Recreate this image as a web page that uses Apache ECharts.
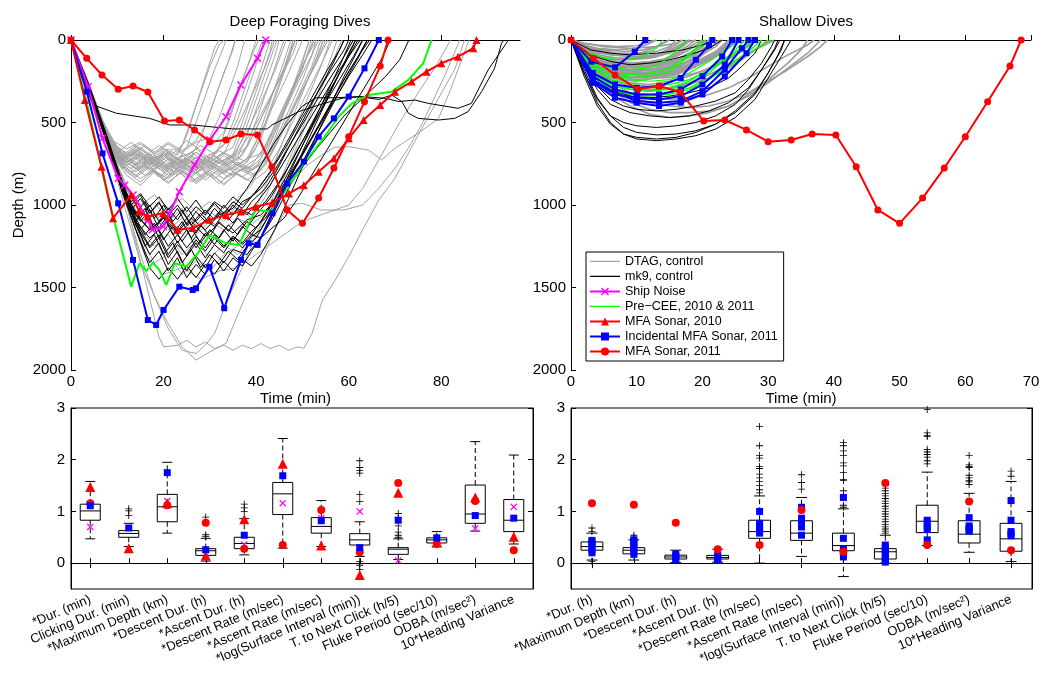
<!DOCTYPE html>
<html><head><meta charset="utf-8">
<script src="https://cdn.jsdelivr.net/npm/echarts@6/dist/echarts.min.js"></script>
<style>html,body{margin:0;padding:0;background:#fff}#c{width:1044px;height:675px}</style>
</head><body><div id="c"></div>
<script>
// ---------------- DATA ----------------
const timeTicksDeep = [0, 20, 40, 60, 80];
const timeTicksShallow = [0, 10, 20, 30, 40, 50, 60, 70];
const depthTicks = [0, 500, 1000, 1500, 2000];
const boxTicks = [0, 1, 2, 3];

// dive profiles: flat [t(min), depth(m), ...]
const deepGray = [
 [0,0,3,220,6,450,9,640,11,720,14,690,17,760,20,700,23,780,26,720,29,800,32,740,35,700,38,560,41,380,44,190,46.5,0],
 [0,0,3,250,6,480,9,680,12,760,15,700,18,790,21,720,24,760,27,680,30,740,33,690,36,520,39,340,42,160,44,0],
 [0,0,4,300,8,600,11,750,14,820,17,760,20,850,23,780,26,830,29,760,32,810,35,770,38,720,41,560,44,380,47,200,50,0],
 [0,0,3,200,7,500,10,650,13,700,16,640,19,720,22,660,25,700,28,640,31,690,34,600,36,480,38,320,40,150,42,0],
 [0,0,4,320,8,620,11,780,14,720,17,800,20,740,23,820,26,760,29,850,32,780,35,820,38,760,41,700,44,520,47,340,50,160,52.5,0],
 [0,0,3,240,6,500,9,700,12,820,15,880,18,800,21,870,24,790,27,860,30,800,33,880,36,800,39,760,42,640,45,460,48,280,51,100,53,0],
 [0,0,4,280,7,520,10,680,13,620,16,700,19,640,22,690,25,610,28,670,31,620,33,560,35,400,37,240,39,100,40.5,0],
 [0,0,3,230,7,560,10,720,13,780,16,700,19,740,22,800,25,720,28,770,31,700,34,760,37,700,40,540,43,360,46,170,48,0],
 [0,0,4,330,8,640,11,760,14,700,17,780,20,830,23,760,26,800,29,730,32,790,35,730,38,790,41,720,43,600,46,420,49,230,51.5,0],
 [0,0,3,260,6,520,9,700,12,740,15,680,18,750,21,690,24,730,27,660,30,720,32,650,34,500,36,330,38,170,40,0],
 [0,0,4,300,8,600,11,700,14,640,17,700,20,660,23,720,26,680,29,740,32,670,35,720,37,600,39,440,41,280,43,120,44.5,0],
 [0,0,5,380,9,660,12,800,15,860,18,790,21,840,24,780,27,850,30,790,33,840,36,780,39,820,42,760,45,600,48,420,51,250,54,80,55.5,0],
 [0,0,3,210,6,450,9,620,12,690,15,630,18,690,21,630,24,680,27,620,30,590,32,470,34,320,36,160,37.5,0],
 [0,0,4,290,8,590,11,720,14,780,17,720,20,790,23,730,26,780,29,720,32,770,35,700,38,740,40,620,42,460,44,290,46,130,47.5,0],
 [0,0,3,240,7,540,10,700,13,760,16,820,19,760,22,820,25,760,28,830,31,770,34,830,37,780,40,820,43,700,46,520,49,340,52,160,54,0],
 [0,0,4,310,8,620,11,730,14,670,17,730,20,690,23,750,26,700,29,760,32,700,35,650,37,500,39,340,41,180,43,0],
 [0,0,3,220,6,470,9,660,12,740,15,790,18,730,21,780,24,720,27,770,30,710,33,760,36,710,38,580,40,420,42,260,44,100,45,0],
 [0,0,5,360,9,650,12,760,15,700,18,760,21,820,24,760,27,810,30,750,33,810,36,750,39,790,42,730,44,620,47,430,50,240,52.5,60,53.5,0],
 [0,0,3,230,6,470,9,640,12,700,15,650,18,720,21,660,23,700,25,580,27,400,29,220,31,50,32,0],
 [0,0,4,300,8,610,11,720,14,680,17,740,20,680,22,720,24,640,26,480,28,320,30,160,32,30,33,0],
 [0,0,3,240,6,490,9,670,12,730,15,770,18,710,21,770,24,700,27,760,30,690,33,740,36,680,39,560,42,400,45,240,48,80,49,0],
 [0,0,4,290,8,580,11,690,14,750,17,690,20,770,23,710,26,790,29,720,32,780,35,710,38,650,41,480,44,300,47,120,48.5,0],
 [0,0,3,230,6,480,9,660,12,740,15,690,18,770,21,700,24,780,27,710,30,770,33,700,36,760,39,700,41,600,43,440,45,280,47,120,48,0],
 [0,0,4,320,8,630,11,770,14,830,17,770,20,850,23,790,26,860,29,800,32,870,35,800,38,850,41,790,44,650,47,480,50,300,53,130,54.5,0],
 [0,0,3,210,6,440,9,610,12,660,15,620,18,680,21,620,24,670,27,610,29,520,31,360,33,200,35,60,35.5,0],
 [0,0,4,280,8,570,11,700,14,760,17,710,20,780,23,720,26,770,29,700,32,750,35,690,37,550,39,390,41,230,43,70,43.5,0],
 [0,0,3,250,7,560,10,740,13,800,16,760,19,830,22,770,25,840,28,780,31,840,34,780,37,830,40,770,43,620,46,440,49,260,52,90,53,0],
 [0,0,4,300,8,600,11,720,14,680,17,750,20,690,23,760,26,700,28,600,30,440,32,280,34,130,35.5,0],
 [0,0,3,240,6,480,9,650,12,710,15,660,18,730,21,680,24,740,27,680,30,740,33,680,36,730,38,640,40,490,42,330,44,170,46,0],
 [0,0,4,310,8,610,11,740,14,800,17,730,20,800,23,740,26,810,29,740,32,800,35,740,38,800,41,760,44,640,47,470,50,300,53,140,55,0],
 [0,0,3,220,6,460,9,630,12,700,15,760,18,700,21,760,24,700,27,760,30,700,33,640,35,500,37,340,39,180,41,30,41.5,0],
 [0,0,4,290,8,590,11,740,14,690,17,760,20,700,23,770,26,710,29,780,32,720,35,780,38,720,41,690,44,540,47,360,50,180,52,0],
 [0,0,3,240,6,490,9,680,12,780,15,840,18,790,21,860,24,800,27,870,30,810,33,870,36,810,39,860,42,800,45,660,48,490,51,320,54,150,56.5,0],
 [0,0,4,300,8,600,11,710,14,660,17,720,20,670,23,730,25,650,27,500,29,340,31,180,33,40,33.5,0],
 [0,0,3,230,6,470,9,650,12,720,15,780,18,720,21,790,24,730,27,790,30,730,33,790,36,740,39,780,42,720,44,600,46,440,48,280,50,120,51.5,0],
 [0,0,4,310,8,620,11,760,14,710,17,780,20,720,23,790,26,730,29,790,32,730,35,790,38,740,40,650,42,500,44,340,46,180,48,30,48.5,0],
 [0,0,4,300,8,620,12,900,15,1050,18,980,21,1100,24,1020,27,1120,30,1040,33,1100,36,1000,39,1080,42,950,45,760,48,560,51,360,54,160,56,0],
 [0,0,4,290,8,600,12,920,15,1150,18,1250,21,1180,24,1300,27,1220,30,1320,33,1240,36,1300,39,1200,42,1100,45,900,48,700,51,500,54,300,57,100,58.5,0],
 [0,0,4,320,8,650,12,960,15,1200,18,1350,21,1300,24,1420,27,1340,30,1400,33,1300,36,1250,38,1150,41,950,44,740,47,530,50,320,53,110,54.5,0],
 [0,0,4,300,8,630,12,880,15,1000,18,940,21,1020,24,960,27,1040,30,980,33,1050,36,960,39,880,42,700,45,500,48,300,51,100,52.5,0],
 [0,0,4,300,8,640,12,1000,16,1450,19,1800,20,1860,23,1850,25,1820,27,1860,29,1830,31,1870,33,1850,35,1880,37,1850,39,1870,41,1840,43,1870,45,1850,47,1880,49,1860,50.3,1868,52.1,1777,54.3,1576,57.1,1454,60,1313,63,1150,66.5,970,70,838,75,576,79.4,353,83,172,85,0],
 [0,0,4,300,8,650,12,1050,15,1350,18,1550,21,1720,24,1860,27,1940,30,1890,33.5,1838,37,1600,40.6,1373,44,1150,47,1000,50,990,54,1030,59,1030,63,1000,66.5,899,70,778,73,650,76,500,78,380,81,200,84,0],
 [0,0,4,300,8,650,12,1000,15,1300,18,1550,21,1750,24,1880,27,1900,29,1850,31,1780,34,1560,37,1380,40,1180,43,990,46,800,49,600,52,400,55,200,57.5,0],
 [0,0,4,300,8,620,12,900,15,1100,18,1050,21,1150,24,1080,27,1180,30,1100,33,1150,36,1080,39,1120,42,1050,45,950,48,850,51,760,54,700,57,650,60,646,64.3,667,67.1,727,70,656,72.2,616,76.5,535,79.4,475,82,300,84,150,86,0],
 [0,0,4,300,8,650,12,1000,16,1300,20,1420,24,1380,28,1450,32,1400,36,1380,40,1300,45,1200,50,1100,55,1050,60,1000,63,900,67,700,71,500,75,320,79,150,82,0]
];

const deepBlack = [
 [0,0,4,300,8,620,11,850,13,1000,15,940,17,1050,19,980,21,1100,23,1020,25,1120,27,1040,29,1100,31,1020,33,1080,35,1000,37,1060,39,980,42,900,45,760,48,600,51,440,54,280,57,120,59,0],
 [0,0,4,310,8,640,11,880,13,1050,15,1150,17,1080,19,1200,21,1120,23,1230,25,1150,27,1260,29,1170,31,1240,33,1150,35,1220,37,1130,39,1180,41,1100,44,960,47,800,50,640,53,480,56,310,59,150,61.5,0],
 [0,0,4,290,8,610,11,870,14,1100,16,1250,18,1180,20,1300,22,1230,24,1350,26,1270,28,1380,30,1300,32,1360,34,1280,36,1330,38,1250,40,1200,43,1050,46,880,49,700,52,520,55,340,58,160,60.5,0],
 [0,0,4,300,8,630,11,900,14,1150,17,1350,19,1280,21,1400,23,1320,25,1440,27,1360,29,1420,31,1330,33,1400,35,1320,37,1370,39,1280,42,1150,45,980,48,800,51,620,54,440,57,260,60,80,61.5,0],
 [0,0,4,300,8,620,11,880,13,980,15,930,17,1010,19,950,21,1030,23,960,25,1040,27,970,29,1050,31,980,33,1020,35,950,37,1000,40,920,43,800,46,650,49,500,52,350,55,200,58,60,59,0],
 [0,0,4,310,8,640,11,900,14,1100,16,1020,18,1150,20,1070,22,1180,24,1100,26,1200,28,1120,30,1190,32,1100,34,1160,36,1080,38,1140,40,1060,43,960,46,820,49,660,52,520,55,380,58,240,61,100,63,0],
 [0,0,4,300,8,620,11,880,14,1100,17,1250,19,1180,21,1300,23,1220,25,1310,27,1230,29,1320,31,1240,33,1290,35,1200,37,1260,39,1190,41,1150,44,1000,47,840,50,690,53,540,56,390,59,240,62,100,64,0],
 [0,0,4,280,8,600,11,860,13,1020,15,1100,17,1030,19,1140,21,1060,23,1160,25,1080,27,1170,29,1090,31,1130,33,1050,35,1110,37,1030,39,1060,42,980,45,860,48,720,51,560,54,400,57,250,60,100,62,0],
 [0,0,4,300,8,630,11,890,14,1120,17,1300,19,1230,21,1360,23,1280,25,1400,27,1310,29,1380,31,1290,33,1350,35,1270,38,1300,41,1200,44,1060,47,900,50,740,53,580,56,420,59,260,62,110,64,0],
 [0,0,4,300,8,620,11,870,13,1000,15,1080,17,1000,19,1100,21,1020,23,1090,25,1010,27,1100,29,1030,31,1090,33,1000,35,1060,37,980,39,950,41,880,44,760,47,620,50,470,53,330,56,190,59,60,60,0],
 [0,0,4,300,8,640,11,920,14,1150,17,1380,19,1450,21,1380,23,1450,25,1370,27,1440,29,1360,31,1420,33,1340,35,1400,37,1330,39,1370,41,1300,44,1150,47,960,50,770,53,580,56,400,59,220,62,60,63,0],
 [0,0,4,290,8,610,11,870,14,1080,16,1180,18,1110,20,1210,22,1130,24,1220,26,1140,28,1230,30,1150,32,1200,34,1120,36,1180,38,1100,40,1140,42,1060,45,920,48,780,51,640,54,500,57,360,60,220,63,90,65,0],
 [0,0,4,300,8,630,11,880,14,1050,16,980,18,1080,20,1000,22,1100,24,1030,26,1120,28,1050,30,1110,32,1040,34,1090,36,1020,38,1060,40,990,43,880,46,740,49,600,52,460,55,320,58,180,61,60,62.5,0],
 [0,0,4,300,8,620,11,880,14,1120,17,1260,19,1200,21,1320,23,1240,25,1300,27,1210,29,1280,31,1200,33,1260,35,1190,37,1230,39,1160,42,1080,45,950,48,800,51,650,54,500,57,340,60,190,63,60,64.5,0],
 [0,0,4,310,8,640,11,900,13,1030,15,960,17,1050,19,990,21,1060,23,1000,25,1080,27,1010,29,1060,31,990,33,1050,35,980,37,1020,39,950,41,900,44,790,47,650,50,510,53,370,56,230,59,100,61,0],
 [0,0,4,300,8,630,11,900,14,1100,17,1200,19,1150,21,1250,23,1180,25,1260,27,1190,29,1260,31,1180,33,1250,35,1190,37,1240,39,1180,41,1200,43,1150,46,1080,49,960,52,820,55,680,58,540,61,400,64,260,67,120,69,0],
 [0,0,4,300,8,620,11,880,14,1060,17,1150,20,1080,23,1180,26,1100,29,1190,32,1110,35,1170,38,1090,41,1060,44,980,47,880,50,770,53,660,56,560,59,460,62,380,65,300,68,220,71,120,73,0],
 [0,0,2,200,4.8,394,9.8,444,17,475,21.3,515,26.3,515,34.9,539,42.4,539,43.4,515,49.2,434,53.5,394,58.6,353,62.9,343,67.9,353,70.8,373,74.3,364,77.2,384,83.6,414,86.5,384,90.1,182,94.5,0],
 [0,0,4,300,8,620,11,880,14,1050,17,1150,20,1080,23,1160,26,1080,29,1150,32,1060,35,1020,38,900,41,760,44,620,47,500,50,400,53,350,57,350,62,343,66.5,360,69.3,333,71.5,374,72.9,444,75,475,79.4,485,82.9,475,85.8,434,88.7,313,91.5,172,93,20,93.5,0]
];

// MFA Sonar, 2011 (same dive drawn in both panels)
const mfaSonar2011 = [0,0,3.4,111,6.7,212,10.2,299,13.4,279,16.6,315,20.2,491,23.4,485,26.7,545,30,616,33.5,606,36.7,570,40.3,576,43.4,768,46.7,1030,50,1111,53.5,958,56.8,776,60,586,63.4,374,66.8,158,68.5,0];
const mfaSonar2010 = [0,0,3,364,6.6,768,9.1,1080,13,940,14.8,1040,16.6,1070,19.9,1050,23,1150,26.3,1140,29.9,1090,33.5,1060,36.7,1040,39.9,1010,43.5,986,47.1,930,50.3,880,53.5,798,56.8,717,60,596,63.2,485,66.8,394,70,313,73.6,252,76.8,192,80,141,83.6,101,86.9,50,87.6,0];
const shipNoise = [0,0,3.7,283,6.8,596,10.2,838,11.6,880,13.4,940,16.6,1090,17.6,1150,19.9,1130,21.3,1050,23.4,920,26.7,758,30,606,33.5,465,36.7,273,40.3,111,42.1,0];
const deepIncidental = [0,0,3.4,313,6.8,687,10.2,990,13.4,1333,16.6,1697,18.4,1727,20,1636,23.4,1495,26.3,1515,27,1505,29.9,1374,33.1,1626,36.7,1333,38.4,1232,40.3,1242,43.5,1050,46.7,869,50.3,737,53.5,586,56.8,475,60,343,63.4,172,66.5,0];
const deepPreCEE = [0,0,4,450,8,950,13,1495,14.8,1353,16.3,1400,17.7,1350,19,1390,20.6,1485,22.4,1353,24.9,1373,27.4,1293,29.9,1182,33.5,1232,36.3,1242,38.1,1131,39.9,1030,43.1,1040,46.4,909,50.3,747,54.3,606,57.8,465,60.7,384,64.3,333,69.3,313,72.9,242,76.1,141,77.9,0];

const shallowGray = [
 [0,0,2,80,4,140,7,170,10,160,13,150,16,120,19,60,21,0],
 [0,0,2,100,4,180,7,210,10,200,13,190,16,170,19,110,22,40,23,0],
 [0,0,2,60,4,100,7,120,10,110,13,90,15,50,17,0],
 [0,0,2,120,4,200,7,240,10,250,13,230,16,210,19,160,22,90,25,20,26,0],
 [0,0,2,90,5,160,8,190,11,180,14,170,17,140,20,80,22,20,23,0],
 [0,0,2,70,5,130,8,150,11,140,14,120,16,80,18,30,19,0],
 [0,0,3,130,6,220,9,260,12,270,15,250,18,220,21,170,24,100,27,30,28,0],
 [0,0,2,50,4,80,7,90,10,85,12,60,14,20,15,0],
 [0,0,2,110,5,190,8,230,11,220,14,200,17,180,20,140,23,70,25,0],
 [0,0,3,150,6,250,9,300,12,310,15,290,18,260,21,210,24,150,27,80,30,20,31,0],
 [0,0,2,40,5,60,8,70,11,60,13,40,15,0],
 [0,0,3,140,6,240,9,280,12,300,15,290,18,270,21,230,24,170,27,90,29,30,30,0],
 [0,0,2,80,5,150,8,180,11,200,14,190,17,160,20,110,23,50,25,0],
 [0,0,3,160,6,260,9,320,12,350,15,360,18,350,21,330,24,290,27,230,30,160,33,90,36,30,37,0],
 [0,0,3,170,6,280,9,340,12,380,15,400,18,410,21,400,24,370,27,320,30,250,33,180,36,100,38,40,39,0],
 [0,0,3,180,6,300,9,380,12,420,15,440,18,440,21,430,24,400,27,340,30,260,33,170,36,80,38,0],
 [0,0,2,100,4,170,7,200,10,190,13,170,16,140,19,90,21,30,22,0],
 [0,0,2,130,4,210,7,250,10,240,13,230,16,200,19,150,22,80,24,20,25,0],
 [0,0,3,130,6,200,9,230,12,220,15,200,18,160,21,100,24,30,25,0],
 [0,0,2,30,4,50,7,60,10,50,12,20,13,0],
 [0,0,3,200,6,330,9,400,12,450,15,470,18,460,21,440,24,400,27,330,30,240,33,140,35,60,36,0],
 [0,0,2,60,4,120,6,150,8,160,10,170,12,160,14,150,16,130,18,90,20,40,21,0],
 [0,0,2,50,4,100,6,130,9,140,12,130,15,110,17,70,19,20,20,0],
 [0,0,2,90,4,150,6,190,8,200,11,210,14,200,17,180,20,130,22,70,24,0],
 [0,0,2,70,4,110,6,120,9,120,12,110,14,90,16,60,18,10,19,0],
 [0,0,2,110,4,170,6,200,9,220,12,220,15,210,18,180,21,120,23,50,24,0],
 [0,0,2,20,4,30,7,40,10,35,12,10,13,0],
 [0,0,3,60,6,90,9,100,12,95,15,80,17,40,18,0],
 [0,0,2,70,4,130,7,160,10,170,13,160,16,130,18,90,20,40,21,0],
 [0,0,2,90,4,150,7,180,10,190,13,180,16,160,19,120,21,60,22.5,0],
 [0,0,2,40,4,70,7,90,10,100,13,90,15,60,17,20,18,0],
 [0,0,2,100,4,160,7,190,10,200,13,200,16,180,19,140,22,80,24,30,25,0],
 [0,0,2,60,4,110,7,130,10,140,13,130,16,100,18,60,20,10,20.5,0],
 [0,0,2,80,4,140,7,170,10,180,13,180,16,170,19,140,21,100,23,50,24.5,0],
 [0,0,2,50,4,90,7,110,10,110,13,100,15,70,17,30,18,0],
 [0,0,2,110,4,180,7,220,10,230,13,220,16,200,19,160,22,100,24,40,25.5,0],
 [0,0,2,70,4,120,7,150,10,150,13,140,16,120,18,80,20,30,21,0],
 [0,0,2,30,4,60,7,80,10,80,13,70,15,40,16,0],
 [0,0,2,90,4,160,7,200,10,210,13,210,16,190,19,150,22,90,24,30,25,0],
 [0,0,2,60,4,100,7,140,10,160,13,150,16,130,19,80,21,30,22,0],
 [0,0,2,20,5,40,9,50,13,40,16,20,17,0],
 [0,0,2,80,5,160,8,200,11,220,14,230,17,220,20,190,23,140,26,70,28,0]
];
const shallowBlack = [
 [0,0,2,200,4,380,6,500,8,570,10,600,13,610,16,600,19,580,22,540,25,470,28,360,30,230,32,100,33.5,0],
 [0,0,2,220,4,400,6,510,8,570,10,590,13,600,16,590,19,560,22,510,25,430,28,320,30,200,31.5,90,32.5,0],
 [0,0,2,180,4,350,6,460,8,530,10,560,13,575,16,570,19,550,22,510,25,440,28,330,30,200,32,60,32.5,0],
 [0,0,2,200,4,360,6,460,8,500,10,520,13,530,16,520,19,500,22,460,25,390,27,300,29,180,31,50,31.5,0],
 [0,0,2,150,4,280,6,360,8,400,10,420,13,430,16,420,19,400,22,370,25,320,27,240,29,140,30.5,40,31,0],
 [0,0,2,120,4,230,6,300,9,340,12,350,15,340,18,320,21,290,24,230,26,160,28,80,29,0],
 [0,0,2,160,4,300,6,390,9,440,12,460,15,470,18,460,21,430,24,380,27,290,29,180,31,60,31.8,0],
 [0,0,3,90,6,130,9,150,12,140,15,120,18,90,21,50,23,0],
 [0,0,3,60,6,80,9,90,13,80,17,60,20,30,22,0]
];
const shallowPreCEE = [
 [0,0,2,100,4,180,6,220,9,240,12,250,15,240,18,200,21,130,24,50,25.5,0],
 [0,0,2,120,4,210,6,260,9,290,12,300,15,290,18,250,21,180,24,100,27,20,28,0],
 [0,0,2,90,4,160,6,200,9,210,12,200,15,170,17,120,19,50,20,0],
 [0,0,2,130,4,230,6,290,9,320,12,330,15,320,18,290,21,230,24,150,27,70,29,0],
 [0,0,2,80,4,140,6,170,9,180,12,170,14,130,16,70,17.5,0],
 [0,0,2,110,4,190,6,240,9,270,12,280,15,270,18,240,21,180,24,110,27,40,28.5,0],
 [0,0,2,140,4,240,6,300,9,330,12,340,15,330,18,300,21,240,24,160,27,80,30,10,30.5,0],
 [0,0,3,130,6,200,9,230,12,220,15,190,17,130,19,60,20.5,0],
 [0,0,2,70,5,110,8,120,11,100,13,50,14,0],
 [0,0,2,130,4,220,6,270,9,300,12,310,15,300,18,270,21,200,23,130,25,60,26.5,0]
];
const shallowIncidental = [
 [0,0,3.1,131,6.7,166,9.7,71,11.3,0],
 [0,0,3.3,250,6.7,330,10,350,13.4,360,16.7,340,20,270,23.4,150,25.5,0],
 [0,0,3.3,220,6.7,300,10,330,13.4,330,16.7,300,20,220,23,100,24.5,0],
 [0,0,3.3,240,6.7,320,10,370,13.4,380,16.7,370,20,310,23.4,180,26,50,27,0],
 [0,0,3.3,200,6.7,270,10,290,13.4,280,16.7,230,19,120,21,30,21.5,0],
 [0,0,3.3,260,6.7,350,10,380,13.4,400,16.7,380,20,330,23.4,220,26.7,80,28,0]
];

// box plots: [min whisker, q1, median, q3, max whisker]
const catsDeep = ['*Dur. (min)','Clicking Dur. (min)','*Maximum Depth (km)','*Descent Dur. (h)','*Ascent Dur. (h)','*Descent Rate (m/sec)','*Ascent Rate (m/sec)','*log(Surface Interval (min))','T. to Next Click (h/5)','Fluke Period (sec/10)','ODBA (m/sec\u00B2)','10*Heading Variance'];
const catsShallow = ['*Dur. (h)','*Maximum Depth (km)','*Descent Dur. (h)','*Ascent Dur. (h)','*Descent Rate (m/sec)','*Ascent Rate (m/sec)','*log(Surface Interval (min))','T. to Next Click (h/5)','Fluke Period (sec/10)','ODBA (m/sec\u00B2)','10*Heading Variance'];
const boxDeep = [
 [0.47,0.83,1.01,1.14,1.58],[0.32,0.50,0.575,0.63,0.77],[0.58,0.80,1.09,1.33,1.95],[0.04,0.15,0.24,0.28,0.48],
 [0.16,0.28,0.38,0.50,0.86],[0.29,0.94,1.34,1.56,2.41],[0.32,0.58,0.71,0.88,1.21],[0.13,0.35,0.45,0.57,0.80],
 [0.07,0.17,0.27,0.30,0.47],[0.32,0.39,0.45,0.49,0.61],[0.62,0.77,0.95,1.51,2.35],[0.37,0.61,0.83,1.23,2.09]
];
const boxShallow = [
 [0.06,0.25,0.32,0.41,0.58],[0.06,0.18,0.25,0.30,0.45],[0.01,0.08,0.12,0.155,0.25],[0.02,0.08,0.11,0.15,0.27],
 [0.0,0.48,0.61,0.83,1.30],[0.13,0.44,0.58,0.82,1.27],[-0.26,0.24,0.34,0.58,1.05],[0.0,0.08,0.22,0.28,0.54],
 [0.34,0.59,0.81,1.12,1.76],[0.21,0.39,0.56,0.82,1.35],[0.03,0.23,0.47,0.77,1.58]
];
const outliersDeep = [[1,1.05],[1,1.01],[1,0.92],[3,0.89],[3,0.55],[3,0.52],[4,1.14],[4,1.07],[4,1.0],
 [7,1.98],[7,1.85],[7,1.79],[7,1.74],[7,1.33],[7,1.19],[7,0.03],[7,-0.04],[7,-0.12],
 [8,0.96],[8,0.88],[8,0.72],[8,0.6],[8,0.54],[8,0.5]];
const outliersShallow = [[0,0.68],[0,0.61],[0,0.03],[1,0.54],[1,0.5],[1,0.47],
 [4,2.64],[4,2.27],[4,2.08],[4,2.03],[4,1.87],[4,1.83],[4,1.72],[4,1.65],[4,1.58],[4,1.5],[4,1.42],[4,1.36],
 [5,1.71],[5,1.56],[5,1.43],
 [6,2.33],[6,2.27],[6,2.17],[6,2.08],[6,1.94],[6,1.88],[6,1.75],[6,1.62],[6,1.6],[6,1.4],[6,1.3],[6,1.12],[6,1.08],
 [7,1.5],[7,1.45],[7,1.4],[7,1.35],[7,1.3],[7,1.25],[7,1.2],[7,1.15],[7,1.1],[7,1.05],[7,1.0],[7,0.95],[7,0.9],[7,0.85],[7,0.8],[7,0.75],[7,0.7],[7,0.66],[7,0.62],[7,0.58],
 [8,2.97],[8,2.52],[8,2.47],[8,2.45],[8,2.2],[8,2.15],[8,2.1],[8,2.05],[8,1.98],[8,1.92],
 [9,2.08],[9,1.9],[9,1.87],[9,1.85],[9,1.7],[9,1.65],[9,1.6],[9,1.57],[9,1.52],
 [10,1.78],[10,1.68]];
const ptsDeepShip = [[0,0.70],[2,1.2],[3,0.25],[4,0.36],[5,1.16],[6,0.87],[7,1.0],[8,0.05],[10,0.67],[11,1.09]];
const ptsDeepIncidental = [[0,1.11],[1,0.68],[2,1.75],[3,0.26],[4,0.54],[5,1.69],[6,0.82],[7,0.30],[8,0.83],[9,0.49],[10,0.92],[11,0.87]];
const ptsDeepSonar2010 = [[0,1.47],[1,0.29],[2,1.16],[3,0.15],[4,0.85],[5,1.92],[6,0.34],[7,-0.23],[8,1.36],[9,0.40],[10,1.27],[11,0.51]];
const ptsDeepSonar2011 = [[0,1.16],[2,1.12],[3,0.78],[4,0.28],[5,0.35],[6,1.03],[7,0.21],[8,1.55],[9,0.37],[10,1.2],[11,0.25]];
const ptsShallowIncidental = [[0,0.44],[0,0.40],[0,0.37],[0,0.30],[0,0.25],[0,0.20],[1,0.45],[1,0.40],[1,0.35],[1,0.30],[1,0.22],[1,0.17],
 [2,0.18],[2,0.14],[2,0.10],[2,0.06],[3,0.15],[3,0.12],[3,0.08],[3,0.05],[4,1.0],[4,0.77],[4,0.70],[4,0.64],[4,0.58],
 [5,1.08],[5,0.87],[5,0.80],[5,0.75],[5,0.70],[5,0.54],[6,1.27],[6,0.48],[6,0.28],[6,0.21],[6,0.12],
 [7,0.35],[7,0.30],[7,0.25],[7,0.20],[7,0.15],[7,0.10],[7,0.05],[7,0.02],[8,0.83],[8,0.78],[8,0.70],[8,0.65],[8,0.45],
 [9,0.88],[9,0.72],[9,0.68],[9,0.65],[9,0.62],[10,1.21],[10,0.83],[10,0.61],[10,0.57],[10,0.53]];
const ptsShallowSonar2011 = [[0,1.16],[1,1.13],[2,0.78],[3,0.27],[4,0.35],[5,1.03],[6,0.22],[7,1.55],[8,0.35],[9,1.19],[10,0.25]];

// ---------------- CHART ----------------
const FONT = '"Liberation Sans", Arial, Helvetica, sans-serif';
const SYM_X = 'path://M-1,-0.75L-0.75,-1L0,-0.25L0.75,-1L1,-0.75L0.25,0L1,0.75L0.75,1L0,0.25L-0.75,1L-1,0.75L-0.25,0Z';
const SYM_PLUS = 'path://M-0.12,-1L0.12,-1L0.12,-0.12L1,-0.12L1,0.12L0.12,0.12L0.12,1L-0.12,1L-0.12,0.12L-1,0.12L-1,-0.12L-0.12,-0.12Z';
const ICON_LINE = 'path://M0,0L0.01,0L0,0.01ZM0,4.2L30,4.2L30,5.6L0,5.6ZM30,10L29.99,10L30,9.99Z';
const GRAY = '#a3a3a3';
const N = {dtag:'DTAG, control', mk9:'mk9, control', ship:'Ship Noise', pre:'Pre\u2212CEE, 2010 & 2011', s10:'MFA Sonar, 2010', inc:'Incidental MFA Sonar, 2011', s11:'MFA Sonar, 2011'};

function pairs(f){const o=[];for(let i=0;i<f.length;i+=2)o.push([f[i],f[i+1]]);return o;}
function line(name, flat, gi, color, width, z, sym, size){
  return {type:'line', name, xAxisIndex:gi, yAxisIndex:gi, data:pairs(flat),
    symbol: sym || 'none', symbolSize: size || 0, showSymbol: !!sym,
    lineStyle:{color, width}, itemStyle:{color, borderWidth:0}, z, silent:true, animation:false};
}
const series = [];
deepGray.forEach(p=>series.push(line(N.dtag,p,0,GRAY,1,2)));
deepBlack.forEach(p=>series.push(line(N.mk9,p,0,'#000',1,3)));
series.push(line(N.pre, deepPreCEE, 0, '#00ff00', 2, 4));
series.push(line(N.ship, shipNoise, 0, '#ff00ff', 2, 5, SYM_X, 8));
series.push(line(N.inc, deepIncidental, 0, '#0000ff', 2, 6, 'rect', 6));
series.push(line(N.s10, mfaSonar2010, 0, '#ff0000', 2, 7, 'triangle', 8));
series.push(line(N.s11, mfaSonar2011, 0, '#ff0000', 2, 8, 'circle', 7));

shallowGray.forEach(p=>series.push(line(N.dtag,p,1,'#9c9c9c',1.6,2)));
shallowBlack.forEach(p=>series.push(line(N.mk9,p,1,'#000',1,3)));
shallowPreCEE.forEach(p=>series.push(line(N.pre,p,1,'#00ff00',1.2,4)));
shallowIncidental.forEach(p=>series.push(line(N.inc,p,1,'#0000ff',2,6,'rect',6)));
series.push(line(N.s11, mfaSonar2011, 1, '#ff0000', 2, 8, 'circle', 7));

function renderBox(params, api){
  const i = api.value(0);
  const lo = api.coord([i, api.value(1)]), q1 = api.coord([i, api.value(2)]), md = api.coord([i, api.value(3)]);
  const q3 = api.coord([i, api.value(4)]), hi = api.coord([i, api.value(5)]);
  const band = api.size([1,0])[0];
  const hw = band*0.26, cw = band*0.13, x = q1[0];
  const st = {stroke:'#000', lineWidth:1, fill:null};
  const dash = {stroke:'#000', lineWidth:1, lineDash:[5,3], fill:null};
  return {type:'group', children:[
    {type:'line', shape:{x1:x,y1:q3[1],x2:x,y2:hi[1]}, style:dash},
    {type:'line', shape:{x1:x,y1:q1[1],x2:x,y2:lo[1]}, style:dash},
    {type:'line', shape:{x1:x-cw,y1:hi[1],x2:x+cw,y2:hi[1]}, style:st},
    {type:'line', shape:{x1:x-cw,y1:lo[1],x2:x+cw,y2:lo[1]}, style:st},
    {type:'rect', shape:{x:x-hw,y:q3[1],width:2*hw,height:q1[1]-q3[1]}, style:{stroke:'#000',lineWidth:1,fill:'rgba(0,0,0,0)'}},
    {type:'line', shape:{x1:x-hw,y1:md[1],x2:x+hw,y2:md[1]}, style:st}
  ]};
}
function boxSeries(stats, gi){
  return {type:'custom', xAxisIndex:gi, yAxisIndex:gi, renderItem:renderBox, silent:true, animation:false, z:2,
    data: stats.map((s,i)=>[i, ...s]), encode:{x:0, y:[1,2,3,4,5]}};
}
function pts(name, data, gi, sym, size, color, z){
  return {type:'scatter', name, xAxisIndex:gi, yAxisIndex:gi, data, symbol:sym, symbolSize:size,
    itemStyle:{color, opacity:1}, z, silent:true, animation:false};
}
series.push(boxSeries(boxDeep, 2));
series.push(pts('o1', outliersDeep, 2, SYM_PLUS, 7, '#000', 3));
series.push(pts('m1', ptsDeepShip, 2, SYM_X, 7, '#ff00ff', 4));
series.push(pts('m2', ptsDeepSonar2011, 2, 'circle', 8, '#ff0000', 5));
series.push(pts('m3', ptsDeepSonar2010, 2, 'triangle', 10, '#ff0000', 6));
series.push(pts('m4', ptsDeepIncidental, 2, 'rect', 7, '#0000ff', 7));
series.push(boxSeries(boxShallow, 3));
series.push(pts('o2', outliersShallow, 3, SYM_PLUS, 7, '#000', 3));
series.push(pts('m5', ptsShallowIncidental, 3, 'rect', 7, '#0000ff', 4));
series.push(pts('m6', ptsShallowSonar2011, 3, 'circle', 8, '#ff0000', 5));

const axLine = {show:true, lineStyle:{color:'#000', width:1}};
const lab = {color:'#000', fontSize:15, fontFamily:FONT};
function valX(gi, max, interval, ticks){
  return {type:'value', gridIndex:gi, min:0, max, interval, name:'Time (min)', nameLocation:'middle', nameGap:21,
    nameTextStyle:{color:'#000', fontSize:15, fontFamily:FONT},
    axisLine:axLine, axisTick:{show:true, inside:true, length:5, lineStyle:{color:'#000'}, customValues:ticks},
    axisLabel:Object.assign({margin:4, customValues:ticks, formatter:v=>String(v)}, lab), splitLine:{show:false}};
}
function depthY(gi, withName){
  const a = {type:'value', gridIndex:gi, min:0, max:2000, interval:500, inverse:true,
    axisLine:axLine, axisTick:{show:true, inside:true, length:5, lineStyle:{color:'#000'}, customValues:depthTicks},
    axisLabel:Object.assign({margin:5, customValues:depthTicks, formatter:v=>String(v)}, lab), splitLine:{show:false}};
  if(withName){ Object.assign(a,{name:'Depth (m)', nameLocation:'middle', nameGap:45, nameTextStyle:{color:'#000', fontSize:15, fontFamily:FONT}}); }
  return a;
}
function catX(gi, cats){
  return {type:'category', gridIndex:gi, data:cats, position:'bottom',
    axisLine:axLine, axisTick:{show:true, inside:true, length:5, alignWithLabel:true, lineStyle:{color:'#000'}},
    axisLabel:{rotate:23, interval:0, margin:10, color:'#000', fontSize:13, fontFamily:FONT}, splitLine:{show:false}};
}
function catTop(gi, cats){
  return {type:'category', gridIndex:gi, data:cats, position:'top',
    axisLine:axLine, axisTick:{show:true, inside:true, length:5, alignWithLabel:true, lineStyle:{color:'#000'}},
    axisLabel:{show:false}, splitLine:{show:false}};
}
function boxY(gi, pos){
  return {type:'value', gridIndex:gi, min:-0.5, max:3, interval:0.5, position:pos,
    axisLine:axLine, axisTick:{show:true, inside:true, length:5, lineStyle:{color:'#000'}, customValues:boxTicks},
    axisLabel:Object.assign({show:pos==='left', margin:6, customValues:boxTicks}, lab), splitLine:{show:false}};
}

const option = {
  backgroundColor:'#fff',
  animation:false,
  title:[
    {text:'Deep Foraging Dives', left:295, top:9, textAlign:'center', textStyle:{fontSize:15, fontWeight:'normal', color:'#000', fontFamily:FONT}},
    {text:'Shallow Dives', left:801, top:9, textAlign:'center', textStyle:{fontSize:15, fontWeight:'normal', color:'#000', fontFamily:FONT}}
  ],
  grid:[
    {left:71, top:40, width:449, height:330},
    {left:571, top:40, width:460, height:330},
    {left:71, top:408, width:462, height:181, show:true, borderColor:'#000', borderWidth:1, backgroundColor:'rgba(0,0,0,0)'},
    {left:571, top:408, width:461, height:181, show:true, borderColor:'#000', borderWidth:1, backgroundColor:'rgba(0,0,0,0)'}
  ],
  xAxis:[
    valX(0, 97, 20, timeTicksDeep),
    valX(1, 70, 10, timeTicksShallow),
    catX(2, catsDeep), catX(3, catsShallow),
    catTop(2, catsDeep), catTop(3, catsShallow)
  ],
  yAxis:[
    depthY(0, true), depthY(1, false),
    boxY(2,'left'), boxY(3,'left'), boxY(2,'right'), boxY(3,'right')
  ],
  legend:{
    data:[{name:N.dtag, icon:ICON_LINE}, {name:N.mk9, icon:ICON_LINE}, N.ship, {name:N.pre, icon:ICON_LINE}, N.s10, N.inc, N.s11],
    orient:'vertical', left:586, top:252, itemWidth:30, itemHeight:10, itemGap:2,
    padding:[3,6,3,3], borderColor:'#000', borderWidth:1, backgroundColor:'#fff',
    selectedMode:false, textStyle:{fontSize:12.5, lineHeight:12, color:'#000', fontFamily:FONT}, z:20
  },
  series
};
const chart = echarts.init(document.getElementById('c'), null, {renderer:'canvas'});
chart.setOption(option);
</script></body></html>
